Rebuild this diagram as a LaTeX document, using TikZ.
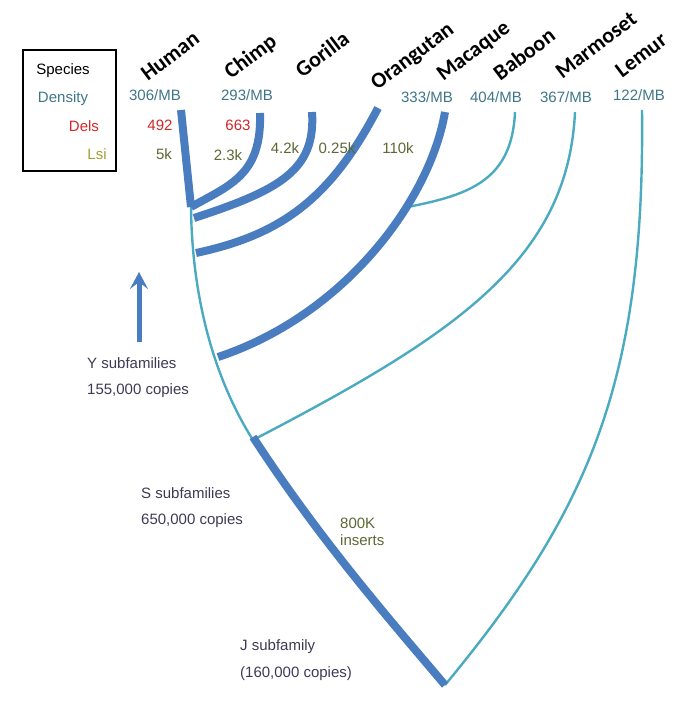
\documentclass[tikz,border=0pt]{standalone}
\usepackage{fontspec}
\setmainfont{Liberation Sans}
\newfontfamily\tagfont{Carlito}
\usetikzlibrary{arrows.meta}

\definecolor{azul}{RGB}{74,124,192}
\definecolor{ciano}{RGB}{74,170,192}
\definecolor{densc}{RGB}{62,118,136}
\definecolor{delsc}{RGB}{210,40,40}
\definecolor{lsic}{RGB}{92,104,52}
\definecolor{lsileg}{RGB}{160,160,56}
\definecolor{subc}{RGB}{62,58,84}

\begin{document}
\begin{tikzpicture}[
    x=1pt, y=-1pt,
    grosso/.style={azul, line width=8pt},
    fino/.style={ciano, line width=2.4pt},
    especie/.style={font=\tagfont\bfseries\fontsize{22}{22}\selectfont, rotate=37, inner sep=0pt},
    dens/.style={densc, font=\fontsize{15}{15}\selectfont, inner sep=0pt},
    dels/.style={delsc, font=\fontsize{15}{15}\selectfont, inner sep=0pt},
    lsi/.style={lsic, font=\fontsize{15}{15}\selectfont, inner sep=0pt},
    rotulo/.style={subc, font=\fontsize{15}{15}\selectfont, inner sep=0pt, anchor=west},
  ]
  \useasboundingbox (0,0) rectangle (685,726);

  % Pontas e juncoes
  \coordinate (hum) at (181,110);
  \coordinate (chi) at (260,113);
  \coordinate (gor) at (312,112);
  \coordinate (ora) at (378,108);
  \coordinate (mac) at (445,112);
  \coordinate (bab) at (515,112);
  \coordinate (mar) at (575,112);
  \coordinate (lem) at (642,110);
  \coordinate (jhc) at (191,207);
  \coordinate (jgo) at (194,218);
  \coordinate (jor) at (196,253);
  \coordinate (jma) at (218,357);
  \coordinate (js) at (253,440);
  \coordinate (jj) at (445,685);
  \path (mac) .. controls (430,200) and (345,315) .. (jma) coordinate[pos=0.34] (jba);

  % Ramos finos
  \draw[fino] (jhc) .. controls (192,300) and (215,380) .. (js);
  \draw[fino] (bab) .. controls (512,180) and (470,195) .. (jba);
  \draw[fino] (mar) .. controls (568,260) and (455,335) .. (js);
  \draw[fino] (lem) .. controls (645,380) and (590,510) .. (jj);

  % Ramos grossos
  \draw[grosso] (hum) -- (jhc);
  \draw[grosso] (chi) .. controls (262,175) and (230,185) .. (jhc);
  \draw[grosso] (gor) .. controls (316,170) and (280,190) .. (jgo);
  \draw[grosso] (ora) .. controls (330,200) and (280,235) .. (jor);
  \draw[grosso] (mac) .. controls (430,200) and (345,315) .. (jma);
  \draw[grosso] ([yshift=3pt]js) .. controls (320,540) and (390,620) .. (jj);

  % Especies
  \node[especie] (nhum) at (170,56) {Human};
  \node[especie] (nchi) at (251,57) {Chimp};
  \node[especie] (ngor) at (322,54) {Gorilla};
  \node[especie] (nora) at (413,57) {Orangutan};
  \node[especie] (nmac) at (474,52) {Macaque};
  \node[especie] (nbab) at (524,54) {Baboon};
  \node[especie] (nmar) at (596,45) {Marmoset};
  \node[especie] (nlem) at (641,55) {Lemur};

  % Densidade, dels, lsi
  \node[dens] (dhum) at (155,95) {306/MB};
  \node[dens] (dchi) at (247,95) {293/MB};
  \node[dens] (dmac) at (427,97) {333/MB};
  \node[dens] (dbab) at (496,97) {404/MB};
  \node[dens] (dmar) at (566,97) {367/MB};
  \node[dens] (dlem) at (639,95) {122/MB};
  \node[dels] (ehum) at (160,125) {492};
  \node[dels] (echi) at (238,125) {663};
  \node[lsi] (lhum) at (164,154) {5k};
  \node[lsi] (lchi) at (228,155) {2.3k};
  \node[lsi] (lgor) at (285,148) {4.2k};
  \node[lsi] (lora) at (337,148) {0.25k};
  \node[lsi] (lmac) at (398,148) {110k};

  % Legenda
  \draw[line width=1.2pt] (23,50) rectangle (116,171);
  \node[font=\fontsize{15}{15}\selectfont, inner sep=0pt] (lesp) at (63,71) {Species};
  \node[dens] (lden) at (63,99) {Density};
  \node[dels] (ldel) at (84,126) {Dels};
  \node[lsi, lsileg] (llsi) at (97,154) {Lsi};

  % Subfamilias
  \coordinate (yseta) at (139,342);
  \draw[azul, line width=5pt, -{Stealth[length=17pt,width=18pt,inset=7pt]}] (yseta) -- (139,272);
  \node[rotulo] (ysub) at (87,363) {Y subfamilies};
  \node[rotulo] (ycop) at (87,391) {155,000 copies};
  \node[rotulo] (ssub) at (141,493) {S subfamilies};
  \node[rotulo] (scop) at (141,521) {650,000 copies};
  \node[rotulo, lsic, align=left] (ins) at (340,532) {800K\\[2pt]inserts};
  \node[rotulo] (jsub) at (240,647) {J subfamily};
  \node[rotulo] (jcop) at (240,674) {(160,000 copies)};
\end{tikzpicture}
\end{document}
